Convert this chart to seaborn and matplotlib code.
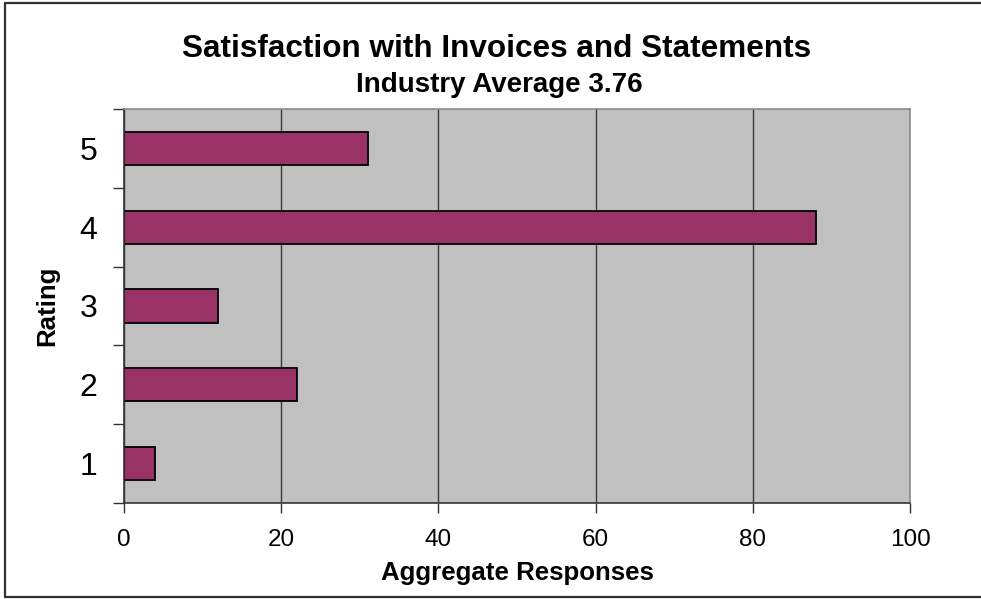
import matplotlib
matplotlib.use("Agg")
import matplotlib.pyplot as plt
from matplotlib.lines import Line2D
import pandas as pd
import seaborn as sns

# Survey results: number of responses for each rating
ratings = ["5", "4", "3", "2", "1"]
responses = [31, 88, 12, 22, 4]
x_ticks = [0, 20, 40, 60, 80, 100]

title = "Satisfaction with Invoices and Statements"
subtitle = "Industry Average 3.76"
x_label = "Aggregate Responses"
y_label = "Rating"

sns.set_style("white")
plt.rcParams["font.family"] = ["Liberation Sans", "DejaVu Sans"]

df = pd.DataFrame({"Rating": ratings, "Responses": responses})

fig = plt.figure(figsize=(9.81, 5.99), dpi=100)
ax = fig.add_axes([124 / 981, 1 - 503 / 599, 786 / 981, 394 / 599])

sns.barplot(
    data=df, x="Responses", y="Rating", order=ratings, orient="h",
    color="#993366", saturation=1, edgecolor="black", linewidth=1.3,
    width=0.42, ax=ax,
)

ax.set_facecolor("#C0C0C0")
ax.set_xlim(0, 100)
ax.set_ylim(4.5, -0.5)
ax.set_xticks(x_ticks)
ax.set_xticklabels([str(v) for v in x_ticks])

# vertical gridlines behind the bars
ax.set_axisbelow(True)
ax.xaxis.grid(True, color="#3a3a3a", linewidth=1.0)
ax.yaxis.grid(False)

# category boundaries carry the tick marks, labels sit at the centres
ax.set_yticks([i - 0.5 for i in range(len(ratings) + 1)], minor=True)
ax.tick_params(axis="y", which="major", length=0, pad=19, labelsize=23,
               labelcolor="black")
ax.tick_params(axis="y", which="minor", length=8, width=1.0, color="#333333",
               direction="out", left=True)
ax.tick_params(axis="x", which="major", length=7, width=1.0, color="#333333",
               direction="out", bottom=True, pad=12, labelsize=17.5,
               labelcolor="black")

for side in ("left", "bottom"):
    ax.spines[side].set_color("#333333")
    ax.spines[side].set_linewidth(1.2)
for side in ("top", "right"):
    ax.spines[side].set_visible(True)
    ax.spines[side].set_color("#8a8a8a")
    ax.spines[side].set_linewidth(1.2)

ax.set_xlabel(x_label, fontsize=18.6, fontweight="bold", color="black")
ax.xaxis.label.set_va("top")
ax.xaxis.set_label_coords(0.5, -0.148)

ax.set_ylabel(y_label, fontsize=18.6, fontweight="bold", color="black")
ax.yaxis.label.set_va("center")
ax.yaxis.label.set_rotation_mode("default")
ax.yaxis.set_label_coords(-0.098, 0.5)

fig.text(497 / 981, 1 - 57 / 599, title, ha="center", va="baseline",
         fontsize=22.7, fontweight="bold", color="black")
fig.text(499 / 981, 1 - 92 / 599, subtitle, ha="center", va="baseline",
         fontsize=20, fontweight="bold", color="black")

# outer chart frame (left, top and bottom edges)
frame_kw = dict(color="#303030", linewidth=1.6, transform=fig.transFigure)
x0, y_top, y_bot = 5 / 981, 1 - 3 / 599, 2 / 599
fig.add_artist(Line2D([x0, x0], [y_bot, y_top], **frame_kw))
fig.add_artist(Line2D([x0, 1.0], [y_top, y_top], **frame_kw))
fig.add_artist(Line2D([x0, 1.0], [y_bot, y_bot], **frame_kw))

fig.savefig("out.png", dpi=100)
